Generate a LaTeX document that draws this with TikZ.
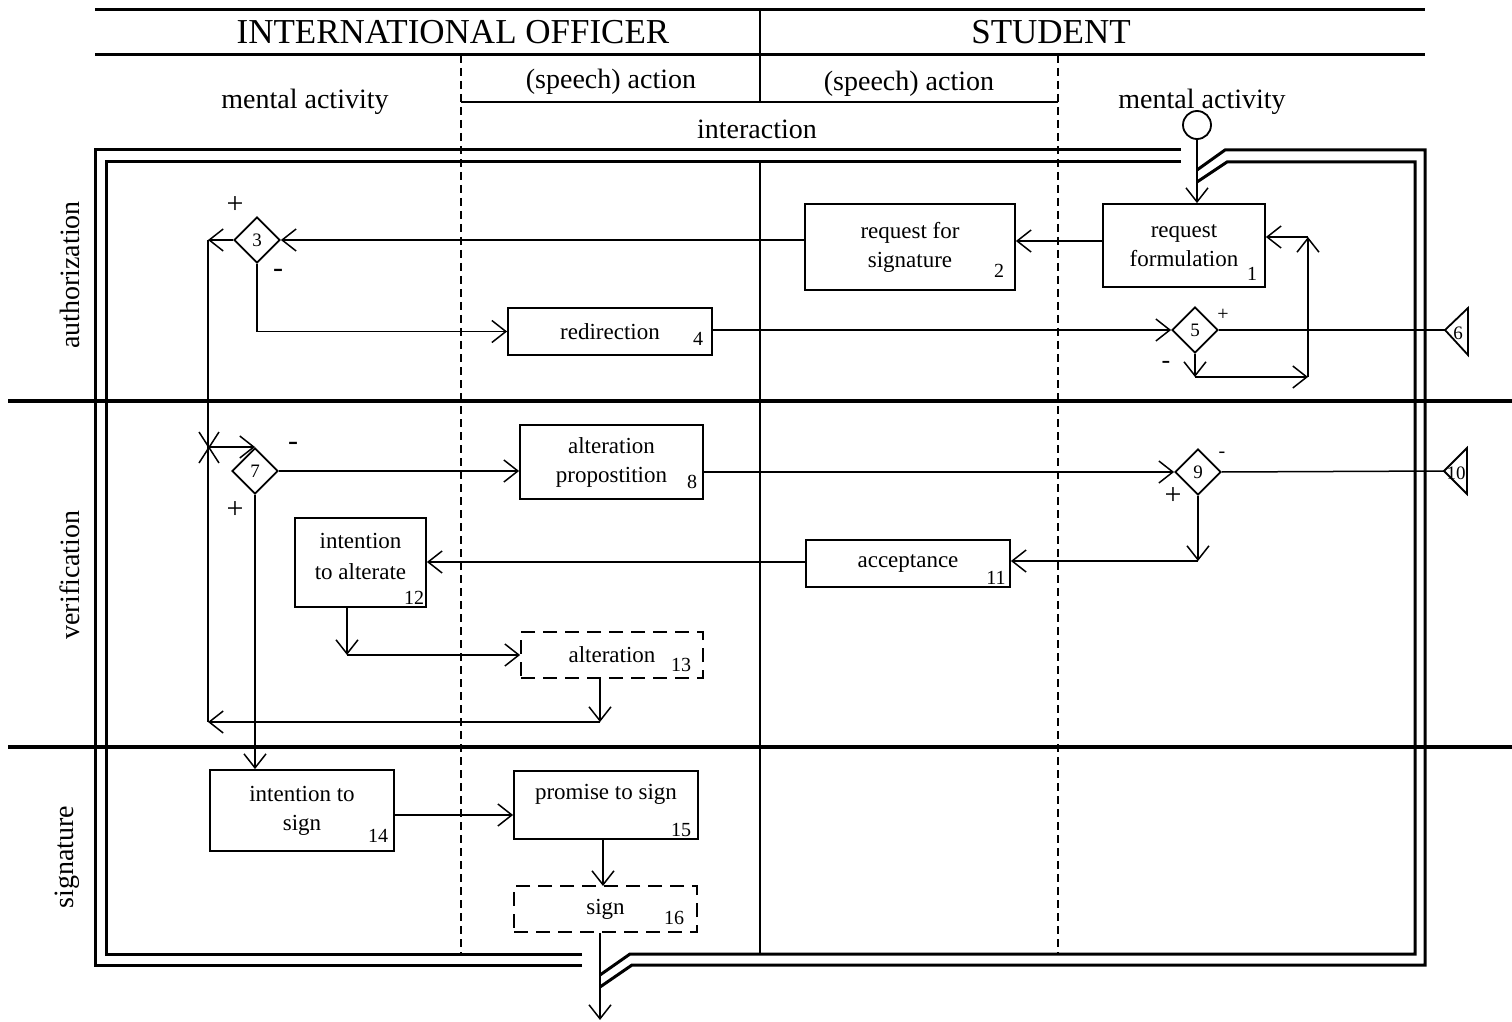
\documentclass[tikz,border=0pt]{standalone}
\usepackage{fontspec}
\setmainfont{Liberation Serif}
\usetikzlibrary{arrows.meta,shapes.geometric}
\begin{document}
\begin{tikzpicture}[x=0.5pt,y=-0.5pt,
 arr/.style={-{Straight Barb[length=7pt,width=11pt]}, line width=0.75pt},
 conn/.style={line width=0.75pt},
 boxs/.style={draw, line width=0.9pt, inner sep=0pt, font=\fontsize{11.5}{14.5}\selectfont, align=center},
 dboxs/.style={boxs, dash pattern=on 7pt off 4pt},
 txts/.style={font=\fontsize{11.5}{15.5}\selectfont, align=center, inner sep=0pt},
 nums/.style={font=\fontsize{10}{12}\selectfont, inner sep=0pt},
 dias/.style={draw, diamond, line width=0.9pt, inner sep=0pt, minimum width=23pt, minimum height=23pt, font=\fontsize{9.5}{11}\selectfont},
 pms/.style={font=\fontsize{15}{15}\selectfont, inner sep=0pt},
 pmsmall/.style={font=\fontsize{10}{10}\selectfont, inner sep=0pt},
 hdrs/.style={font=\fontsize{17.5}{20}\selectfont, inner sep=0pt},
 subs/.style={font=\fontsize{14}{16}\selectfont, inner sep=0pt},
 heavy/.style={line width=1.5pt},
 lanes/.style={line width=1.6pt},
 dashv/.style={line width=0.75pt, dash pattern=on 4pt off 2.5pt},
]
\useasboundingbox (0,0) rectangle (1512,1022);

% header
\draw[heavy] (95,10) -- (1425,10);
\draw[heavy] (95,55) -- (1425,55);
\draw[line width=1.3pt] (760,10) -- (760,102);
\draw[line width=1.3pt] (461,102) -- (1058,102);
\node[hdrs] (hio) at (453,32) {INTERNATIONAL OFFICER};
\node[hdrs] (hst) at (1051,32) {STUDENT};
\node[subs] (hma1) at (305,102) {mental activity};
\node[subs] (hsa1) at (611,82) {(speech) action};
\node[subs] (hsa2) at (909,84) {(speech) action};
\node[subs] (hma2) at (1202,102) {mental activity};
\node[subs] (hint) at (757,129) {interaction};

% dashed column lines and middle line
\draw[dashv] (461,55) -- (461,954);
\draw[dashv] (1058,55) -- (1058,954);
\draw[line width=1pt] (760,162) -- (760,954);

% double frame
\draw[heavy] (582,965) -- (95,965) -- (95,150) -- (1181,150);
\draw[heavy] (582,954) -- (106,954) -- (106,162) -- (1181,162);
\draw[heavy] (1197,170) -- (1225,150) -- (1425,150) -- (1425,965) -- (632,965) -- (600,987);
\draw[heavy] (1197,182) -- (1227,162) -- (1415,162) -- (1415,954) -- (630,954) -- (600,975);

% swimlanes
\draw[lanes] (8,401) -- (1512,401);
\draw[lanes] (8,747) -- (1512,747);
\node[subs, rotate=90] (lauth) at (70,275) {authorization};
\node[subs, rotate=90] (lver) at (70,575) {verification};
\node[subs, rotate=90] (lsig) at (67,857) {signature};

% start
\node[draw, circle, line width=0.9pt, minimum size=14pt, inner sep=0pt] (start) at (1197,125) {};

% boxes
\node[boxs, minimum width=81pt, minimum height=41.5pt] (b1) at (1184,245.5) {request\\formulation};
\node[nums] (n1) at (1252,274) {1};
\node[boxs, minimum width=105pt, minimum height=43pt] (b2) at (910,247) {request for\\signature};
\node[nums] (n2) at (999,271) {2};
\node[boxs, minimum width=102pt, minimum height=23.5pt] (b4) at (610,331.5) {redirection};
\node[nums] (n4) at (698,339) {4};
\node[boxs, minimum width=91.5pt, minimum height=37pt] (b8) at (611.5,462) {alteration\\propostition};
\node[nums] (n8) at (692,482) {8};
\node[boxs, minimum width=102pt, minimum height=23.5pt] (b11) at (908,563.5) {acceptance};
\node[nums] (n11) at (996,578) {11};
\node[boxs, minimum width=65.5pt, minimum height=44.5pt] (b12) at (360.5,562.5) {};
\node[txts] (b12t) at (360.5,556.5) {intention\\to alterate};
\node[nums] (n12) at (414,598) {12};
\node[dboxs, minimum width=91pt, minimum height=23pt] (b13) at (612,655) {alteration};
\node[nums] (n13) at (681,665) {13};
\node[boxs, minimum width=92pt, minimum height=40.5pt] (b14) at (302,810.5) {intention to\\sign};
\node[nums] (n14) at (378,836) {14};
\node[boxs, minimum width=92pt, minimum height=34pt] (b15) at (606,805) {};
\node[txts] (b15t) at (606,794) {promise to sign};
\node[nums] (n15) at (681,830) {15};
\node[dboxs, minimum width=91.5pt, minimum height=23pt] (b16) at (605.5,909) {sign};
\node[nums] (n16) at (674,918) {16};

% diamonds
\node[dias] (d3) at (257,240) {3};
\node[dias] (d5) at (1195,330) {5};
\node[dias] (d7) at (255,471) {7};
\node[dias] (d9) at (1198,472) {9};

% end triangles
\coordinate (t6) at (1445,330);
\draw[line width=0.9pt] (t6) -- (1468,308) -- (1468,355) -- cycle;
\node[font=\fontsize{9.5}{11}\selectfont, inner sep=0pt] (t6l) at (1458,333) {6};
\coordinate (t10) at (1444,471);
\draw[line width=0.9pt] (t10) -- (1467,448) -- (1467,494) -- cycle;
\node[font=\fontsize{9.5}{11}\selectfont, inner sep=0pt] (t10l) at (1456,473) {10};

% plus / minus marks
\node[pms] (p3) at (235,205) {+};
\node[pms] (m3) at (278,273) {-};
\node[pmsmall] (p5) at (1223,315) {+};
\node[font=\fontsize{13}{13}\selectfont, inner sep=0pt] (m5) at (1166,365) {-};
\node[pms] (m7) at (293,446) {-};
\node[pms] (p7) at (235,510) {+};
\node[pmsmall] (m9) at (1222,455) {-};
\node[pms] (p9) at (1173,496) {+};

% junction coordinates
\coordinate (j3) at (208,240);
\coordinate (j13) at (208,722);
\coordinate (x7) at (208,447);
\coordinate (j5a) at (1195,377);
\coordinate (j5b) at (1308,377);
\coordinate (j5c) at (1308,237);
\coordinate (j9) at (1198,561);
\coordinate (j12) at (347,655);
\coordinate (j13b) at (600,722);
\coordinate (fin) at (600,1020);

% connectors
\draw[arr] (start.south) -- (start.south |- b1.north);
\draw[arr] (b1.west |- 0,241) -- (b2.east |- 0,241);
\draw[arr] (b2.west |- d3.east) -- (d3.east);
\draw[arr] (d3.west) -- (j3);
\draw[conn] (j3) -- (j13);
\draw[arr] (d3.south) |- (b4.west);
\draw[arr] (b4.east |- d5.west) -- (d5.west);
\draw[conn] (d5.east) -- (t6);
\draw[arr] (d5.south) -- (j5a);
\draw[arr] (j5a) -- (j5b);
\draw[arr] (j5b) -- (j5c);
\draw[arr] (j5c) -- (j5c -| b1.east);
\draw[conn] (199,432) -- (219,463) (219,432) -- (199,463);
\draw[arr] (x7) -- (x7 -| d7.north);
\draw[arr] (d7.east) -- (d7.east -| b8.west);
\draw[arr] (b8.east |- d9.west) -- (d9.west);
\draw[conn] (d9.east) -- (t10);
\draw[arr] (d9.south) -- (j9);
\draw[arr] (j9) -- (j9 -| b11.east);
\draw[arr] (b11.west |- 0,562) -- (b12.east |- 0,562);
\draw[arr] (j12 |- b12.south) -- (j12);
\draw[arr] (j12) -- (j12 -| b13.west);
\draw[arr] (j13b |- b13.south) -- (j13b);
\draw[arr] (j13b) -- (j13);
\draw[arr] (d7.south) -- (d7.south |- b14.north);
\draw[arr] (b14.east |- 0,815) -- (b15.west |- 0,815);
\draw[arr] (603,839) -- (603,886);
\draw[arr] (fin |- b16.south) -- (fin);
\end{tikzpicture}
\end{document}
